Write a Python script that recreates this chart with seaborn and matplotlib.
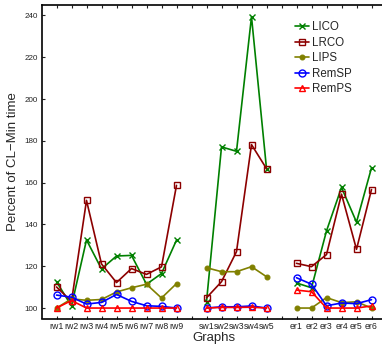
import matplotlib
matplotlib.use("Agg")
import matplotlib.pyplot as plt
import seaborn as sns
import pandas as pd

sns.set_theme(style="white")
plt.rcParams["font.family"] = ["Liberation Sans", "DejaVu Sans"]

# Graph groups, each drawn as its own line segment
rw_labels = ["rw1", "rw2", "rw3", "rw4", "rw5", "rw6", "rw7", "rw8", "rw9"]
sw_labels = ["sw1", "sw2", "sw3", "sw4", "sw5"]
er_labels = ["er1", "er2", "er3", "er4", "er5", "er6"]

series_names = ["LICO", "LRCO", "LIPS", "RemSP", "RemPS"]

lico_rw = [112.6, 101.0, 132.6, 118.7, 124.9, 125.2, 111.4, 116.5, 132.5]
lico_sw = [103.0, 177.1, 175.0, 239.4, 166.7]
lico_er = [112.0, 109.7, 136.9, 157.7, 141.1, 167.1]

lrco_rw = [110.1, 103.2, 151.5, 121.1, 112.2, 118.9, 116.1, 119.7, 158.7]
lrco_sw = [104.9, 112.6, 127.0, 178.2, 166.7]
lrco_er = [121.4, 119.8, 125.6, 154.5, 128.1, 156.7]

lips_rw = [100.0, 104.4, 103.7, 104.1, 107.7, 109.7, 111.4, 104.8, 111.7]
lips_sw = [119.3, 117.4, 117.4, 119.8, 115.0]
lips_er = [100.0, 100.0, 105.0, 102.6, 103.0, 100.0]

remsp_rw = [106.2, 105.2, 101.9, 102.7, 106.5, 103.2, 101.1, 100.8, 100.0]
remsp_sw = [100.0, 100.6, 100.6, 101.0, 100.0]
remsp_er = [114.5, 111.4, 101.1, 102.4, 102.1, 104.0]

remps_rw = [100.0, 103.6, 100.0, 100.0, 100.0, 100.0, 100.0, 100.0, 100.0]
remps_sw = [100.0, 100.3, 100.3, 100.4, 100.0]
remps_er = [108.6, 107.8, 100.0, 100.0, 100.0, 101.0]

values = {
    "LICO": [lico_rw, lico_sw, lico_er],
    "LRCO": [lrco_rw, lrco_sw, lrco_er],
    "LIPS": [lips_rw, lips_sw, lips_er],
    "RemSP": [remsp_rw, remsp_sw, remsp_er],
    "RemPS": [remps_rw, remps_sw, remps_er],
}

styles = {
    "LICO": dict(color="#008000", marker="x", mfc="none", ms=4, mew=1.0),
    "LRCO": dict(color="#8c0000", marker="s", mfc="none", ms=4.5, mew=1.0),
    "LIPS": dict(color="#808000", marker="o", mfc="#808000", ms=3.5, mew=0.8),
    "RemSP": dict(color="#0000ff", marker="o", mfc="none", ms=5, mew=1.0),
    "RemPS": dict(color="#ff0000", marker="^", mfc="none", ms=5, mew=1.0),
}

# x positions: groups separated by one empty slot
groups = [rw_labels, sw_labels, er_labels]
positions = []
tick_labels = []
pos = 1
for gi, labels in enumerate(groups):
    positions.append(list(range(pos, pos + len(labels))))
    tick_labels.extend(labels)
    pos += len(labels)
    if gi < len(groups) - 1:
        tick_labels.append("")
        pos += 1

fig = plt.figure(figsize=(3.82, 3.44), dpi=100)
ax = fig.add_axes([41.5 / 382, 1 - 318.5 / 344, 345 / 382, (318.5 - 5) / 344])

for name in series_names:
    st = styles[name]
    for gi, (xs, ys) in enumerate(zip(positions, values[name])):
        df = pd.DataFrame({"x": xs, "y": ys})
        sns.lineplot(data=df, x="x", y="y", ax=ax, color=st["color"],
                     marker=st["marker"], markersize=st["ms"],
                     markerfacecolor=st["mfc"], markeredgecolor=st["color"],
                     markeredgewidth=st["mew"], linewidth=1.2,
                     label=name if gi == 0 else None, legend=False)

ax.set_xlim(0, 23)
ax.set_ylim(95, 245)
ax.set_xticks(range(1, 23))
ax.set_xticklabels(tick_labels, fontsize=6.3, color="#222222")
ax.set_yticks(range(100, 241, 20))
ax.set_yticklabels([str(v) for v in range(100, 241, 20)], fontsize=5.8, color="#222222")
ax.tick_params(direction="in", length=2.5, width=0.8, top=True, right=True,
               bottom=True, left=True, pad=2.5, colors="#222222")
for sp in ax.spines.values():
    sp.set_color("black")
    sp.set_linewidth(1.2)

ax.set_xlabel("Graphs", fontsize=9.5, labelpad=1)
ax.set_ylabel("Percent of CL\u2212Min time", fontsize=9.5, labelpad=4)

leg = ax.legend(loc="upper left", bbox_to_anchor=(0.72, 0.963), frameon=False,
                fontsize=8.3, handlelength=1.3, handletextpad=0.2,
                labelspacing=0.3, borderaxespad=0.0)

fig.savefig("out.png", dpi=100, facecolor="white")
